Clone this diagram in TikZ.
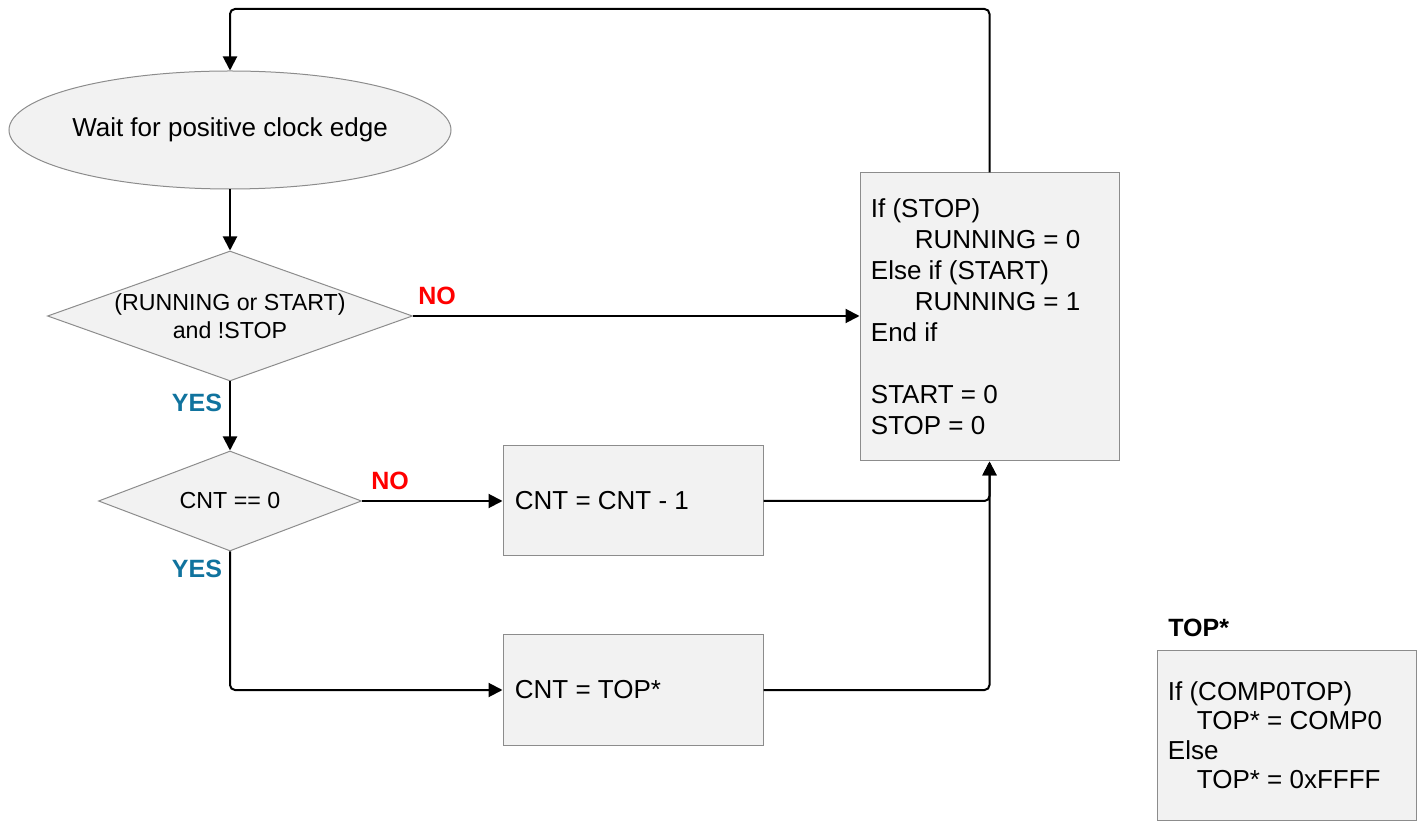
\documentclass[tikz,border=0pt]{standalone}
\usepackage{fontspec}
\setmainfont{Liberation Sans}
\usetikzlibrary{shapes.geometric,arrows.meta}
\definecolor{boxfill}{RGB}{242,242,242}
\definecolor{boxline}{RGB}{140,140,140}
\definecolor{yescol}{RGB}{16,115,158}
\definecolor{nocol}{RGB}{255,0,0}
\tikzset{
  shapebase/.style={draw=boxline,fill=boxfill,line width=0.5pt,inner sep=0pt},
  ell/.style={shapebase,ellipse},
  dia/.style={shapebase,diamond},
  box/.style={shapebase,rectangle},
  bigtxt/.style={font=\fontsize{13}{15.5}\selectfont,inner sep=0pt,align=left},
  smalltxt/.style={font=\fontsize{11.6}{14}\selectfont,inner sep=0pt,align=center},
  arr/.style={draw=black,line width=1pt,-{Triangle[length=7pt,width=7pt]},rounded corners=2.5pt},
  lbl/.style={font=\fontsize{12.5}{15}\selectfont\bfseries,inner sep=0pt},
  nolbl/.style={lbl,text=nocol},
  yeslbl/.style={lbl,text=yescol}
}
\begin{document}
\begin{tikzpicture}[x=0.5pt,y=-0.5pt]
\useasboundingbox (0,0) rectangle (1423,822);
% shapes
\node[ell,minimum width=221pt,minimum height=59pt] (e) at (230,130) {};
\node[bigtxt] (et) at (e) {Wait for positive clock edge};
\node[dia,minimum width=182.5pt,minimum height=65pt] (d1) at (230,316) {};
\node[smalltxt] (d1t) at (230,316) {(RUNNING or START)\\and !STOP};
\node[dia,minimum width=131.5pt,minimum height=50pt] (d2) at (230,501) {};
\node[smalltxt] (d2t) at (d2) {CNT == 0};
\node[box,minimum width=129.5pt,minimum height=144pt] (b) at (989.5,317) {};
\node[bigtxt,anchor=west] (bt) at ([xshift=5.5pt]b.west) {If (STOP)\\\hspace*{22pt}RUNNING = 0\\Else if (START)\\\hspace*{22pt}RUNNING = 1\\End if\\[15.5pt]START = 0\\STOP = 0};
\node[box,minimum width=130pt,minimum height=55pt] (c1) at (633,501) {};
\node[bigtxt,anchor=west] (c1t) at ([xshift=6pt]c1.west) {CNT = CNT - 1};
\node[box,minimum width=130pt,minimum height=55pt] (c2) at (633,690) {};
\node[bigtxt,anchor=west] (c2t) at ([xshift=6pt]c2.west) {CNT = TOP*};
\node[lbl,anchor=west] (tt) at (1168,628) {TOP*};
\node[box,minimum width=129.5pt,minimum height=85pt] (tb) at (1286.5,735) {};
\node[font=\fontsize{13}{14.75}\selectfont,inner sep=0pt,align=left,anchor=west] (tbt) at ([xshift=5.5pt]tb.west) {If (COMP0TOP)\\\hspace*{14.5pt}TOP* = COMP0\\Else\\\hspace*{14.5pt}TOP* = 0xFFFF};
% connectors
\coordinate (topc) at (230,9);
\draw[arr] (e) -- (d1);
\draw[arr] (d1.east) -- (d1.east -| b.west);
\draw[arr] (d1) -- (d2);
\draw[arr] (d2.east) -- (c1.west);
\draw[arr] (d2.south) |- (c2.west);
\draw[arr] (c1.east) -| (b.south);
\draw[arr] (c2.east) -| (b.south);
\draw[arr] (b.north) |- (topc) -- (e.north);
% labels
\node[nolbl] (no1) at (437,296) {NO};
\node[yeslbl] (yes1) at (197,403) {YES};
\node[nolbl] (no2) at (390,481) {NO};
\node[yeslbl] (yes2) at (197,569) {YES};
\end{tikzpicture}
\end{document}
